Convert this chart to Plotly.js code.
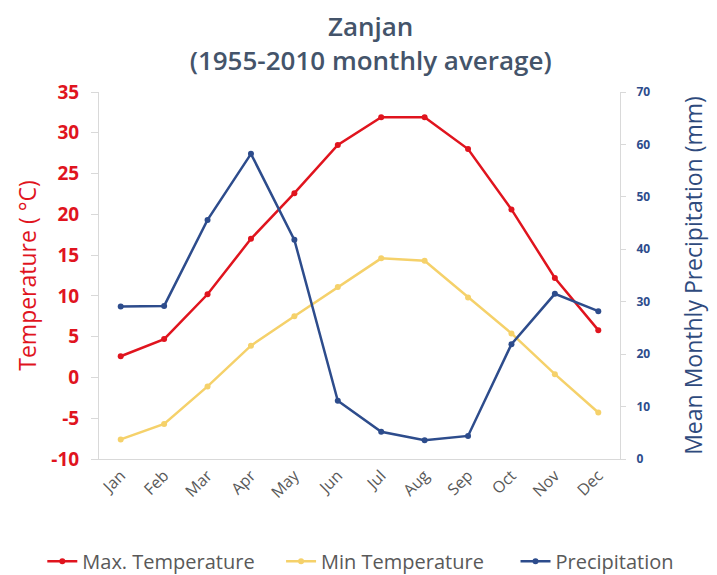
<!DOCTYPE html>
<html><head><meta charset="utf-8">
<script src="https://cdn.plot.ly/plotly-3.0.1.min.js"></script>
<style>body{margin:0;background:#fff}#chart{width:717px;height:575px}</style>
</head><body><div id="chart"></div>
<script>
const months = ["Jan","Feb","Mar","Apr","May","Jun","Jul","Aug","Sep","Oct","Nov","Dec"];
const maxTemp = [2.6, 4.7, 10.2, 17.0, 22.6, 28.5, 31.9, 31.9, 28.0, 20.6, 12.2, 5.8];
const minTemp = [-7.6, -5.7, -1.1, 3.9, 7.5, 11.1, 14.6, 14.3, 9.8, 5.4, 0.4, -4.3];
const precip = [29.1, 29.2, 45.6, 58.2, 41.8, 11.1, 5.2, 3.6, 4.4, 21.9, 31.5, 28.2];
const tempTicks = [-10, -5, 0, 5, 10, 15, 20, 25, 30, 35];
const tempTickText = ["-10", "-5", "0", "5", "10", "15", "20", "25", "30", "35"];
const precipTicks = [0, 10, 20, 30, 40, 50, 60, 70];

const red = "#E0141E", yellow = "#F5D16A", blue = "#2D4C8C";
const traces = [
  {x: months, y: maxTemp, name: "Max. Temperature", type: "scatter", mode: "lines+markers", legend: "legend",
   line: {color: red, width: 2.5}, marker: {color: red, size: 6}},
  {x: months, y: minTemp, name: "Min Temperature", type: "scatter", mode: "lines+markers", legend: "legend2",
   line: {color: yellow, width: 2.5}, marker: {color: yellow, size: 6}},
  {x: months, y: precip, name: "Precipitation", type: "scatter", mode: "lines+markers", yaxis: "y2", legend: "legend3",
   line: {color: blue, width: 2.5}, marker: {color: blue, size: 6}}
];
const font = "Open Sans, Lato, sans-serif";
function leg(x) {
  return {orientation: "h", xref: "container", x: x, xanchor: "left", yref: "container", y: 0.024, yanchor: "middle",
          font: {size: 20, color: "#595959"}, itemwidth: 30, bgcolor: "rgba(0,0,0,0)"};
}
const layout = {
  width: 717, height: 575,
  margin: {l: 99, r: 97, t: 92, b: 116, autoexpand: false},
  paper_bgcolor: "#fff", plot_bgcolor: "#fff",
  font: {family: font, color: "#595959"},
  title: {text: "Zanjan<br>(1955-2010 monthly average)", x: 0.517, xanchor: "center",
          yref: "container", y: 0.937, yanchor: "top", automargin: false,
          font: {size: 26, color: "#44546A", family: font, weight: 600}},
  showlegend: true,
  legend: leg(0.059), legend2: leg(0.392), legend3: leg(0.719),
  xaxis: {type: "category", range: [-0.5, 11.5], tickangle: -45, tickfont: {size: 16, color: "#595959"}, automargin: false,
          showline: true, linecolor: "#D9D9D9", linewidth: 1, ticks: "", showgrid: false, zeroline: false},
  yaxis: {range: [-10, 35], tickvals: tempTicks, ticktext: tempTickText, ticks: "outside", ticklen: 7, tickcolor: "#D9D9D9",
          ticklabelstandoff: 8,
          showline: true, linecolor: "#D9D9D9", showgrid: false, zeroline: false, automargin: false,
          tickfont: {size: 19, color: red, family: font, weight: "bold"},
          title: {text: "Temperature ( °C)", font: {size: 23, color: red}, standoff: 8}},
  yaxis2: {range: [0, 70], tickvals: precipTicks, overlaying: "y", side: "right", ticks: "outside", ticklen: 5,
           ticklabelstandoff: 8,
           tickcolor: "#D9D9D9", showline: true, linecolor: "#D9D9D9", showgrid: false, zeroline: false, automargin: false,
           tickfont: {size: 12, color: blue, family: font, weight: "bold"},
           title: {text: "Mean Monthly Precipitation (mm)", font: {size: 23, color: "#2E4A7D"}, standoff: 36}}
};
Plotly.newPlot("chart", traces, layout, {displayModeBar: false});
</script></body></html>
